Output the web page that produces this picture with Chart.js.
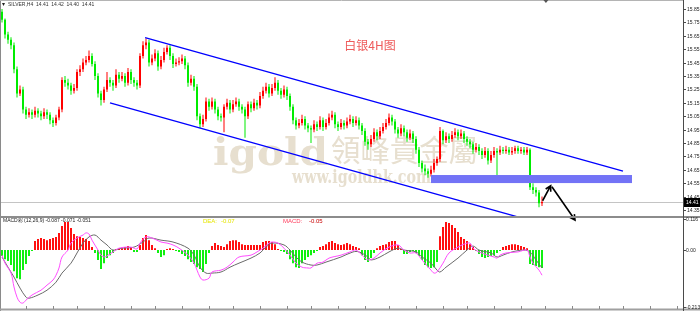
<!DOCTYPE html>
<html>
<head>
<meta charset="utf-8">
<script src="https://cdn.jsdelivr.net/npm/chart.js@4.4.1/dist/chart.umd.min.js"></script>
<style>
  html, body { margin: 0; padding: 0; background: #fff; }
  #wrap { position: relative; width: 700px; height: 311px; overflow: hidden; }
  #price { position: absolute; left: 0; top: 0; }
  #macd { position: absolute; left: 0; top: 214px; }
</style>
</head>
<body>
<div id="wrap">
  <canvas id="price" width="700" height="311"></canvas>
  <canvas id="macd" width="700" height="97"></canvas>
</div>
<script>
'use strict';

// ─── SILVER H4 candles ────────────────────────────────────────────────────────

const openP = [
  15.83,15.77,15.66,15.62,15.58,15.40,15.22,15.25,15.10,15.06,
  15.08,15.06,15.09,15.07,15.05,15.08,15.06,15.02,15.00,15.04,
  15.10,15.32,15.30,15.28,15.24,15.26,15.38,15.40,15.45,15.47,
  15.50,15.44,15.35,15.22,15.17,15.25,15.32,15.30,15.28,15.36,
  15.33,15.35,15.30,15.38,15.32,15.30,15.28,15.50,15.58,15.60,
  15.45,15.48,15.52,15.42,15.47,15.53,15.56,15.50,15.44,15.45,
  15.46,15.48,15.43,15.30,15.33,15.27,15.05,14.99,15.03,15.16,
  15.12,15.16,15.10,15.05,15.04,15.12,15.15,15.10,15.14,15.16,
  15.12,15.10,15.05,15.14,15.11,15.15,15.13,15.20,15.24,15.27,
  15.22,15.26,15.30,15.24,15.21,15.25,15.20,15.12,15.02,14.98,
  15.00,15.03,14.98,14.96,14.95,14.99,14.97,15.02,14.97,15.00,
  15.04,15.06,14.99,14.97,15.00,14.98,15.01,15.03,15.00,15.02,
  14.98,14.94,14.86,14.84,14.88,14.93,14.90,14.94,14.97,15.00,
  15.04,15.01,14.95,14.92,14.96,14.93,14.89,14.92,14.88,14.80,
  14.70,14.66,14.64,14.62,14.65,14.70,14.73,14.94,14.87,14.90,
  14.88,14.91,14.93,14.90,14.92,14.88,14.86,14.84,14.80,14.82,
  14.79,14.76,14.79,14.72,14.76,14.79,14.78,14.80,14.79,14.80,
  14.78,14.79,14.81,14.79,14.80,14.78,14.80,14.52,14.50,14.48,
  14.40
];
const highP = [
  15.85,15.78,15.68,15.64,15.60,15.42,15.28,15.27,15.12,15.11,
  15.10,15.12,15.11,15.09,15.11,15.10,15.08,15.04,15.06,15.12,
  15.34,15.35,15.33,15.30,15.29,15.40,15.43,15.48,15.50,15.54,
  15.52,15.46,15.37,15.24,15.27,15.38,15.34,15.32,15.40,15.38,
  15.38,15.37,15.41,15.40,15.34,15.32,15.52,15.61,15.63,15.62,
  15.51,15.55,15.54,15.50,15.56,15.58,15.58,15.52,15.48,15.49,
  15.51,15.50,15.45,15.36,15.35,15.29,15.07,15.06,15.19,15.18,
  15.19,15.18,15.12,15.07,15.14,15.18,15.17,15.17,15.19,15.18,
  15.14,15.12,15.16,15.16,15.18,15.17,15.23,15.27,15.30,15.29,
  15.29,15.34,15.32,15.26,15.28,15.27,15.22,15.14,15.04,15.03,
  15.06,15.05,15.00,14.98,15.02,15.01,15.05,15.04,15.03,15.07,
  15.09,15.08,15.01,15.03,15.02,15.04,15.06,15.05,15.05,15.04,
  15.00,14.96,14.88,14.91,14.96,14.95,14.97,15.00,15.03,15.07,
  15.06,15.03,14.97,14.99,14.98,14.95,14.95,14.94,14.90,14.82,
  14.72,14.69,14.66,14.68,14.73,14.75,14.97,14.95,14.93,14.92,
  14.94,14.96,14.95,14.95,14.94,14.90,14.88,14.86,14.85,14.84,
  14.81,14.82,14.81,14.79,14.82,14.81,14.83,14.82,14.83,14.82,
  14.82,14.83,14.83,14.82,14.82,14.82,14.81,14.55,14.52,14.50,
  14.45
];
const lowP = [
  15.75,15.63,15.59,15.55,15.37,15.19,15.20,15.07,15.03,15.04,
  15.03,15.04,15.04,15.02,15.03,15.03,14.99,14.97,14.98,15.02,
  15.08,15.27,15.25,15.21,15.22,15.24,15.35,15.38,15.43,15.45,
  15.42,15.32,15.19,15.13,15.15,15.23,15.27,15.24,15.26,15.30,
  15.31,15.27,15.28,15.29,15.27,15.25,15.26,15.48,15.55,15.42,
  15.43,15.46,15.39,15.40,15.45,15.51,15.47,15.41,15.42,15.43,
  15.44,15.40,15.27,15.28,15.24,15.02,14.96,14.97,15.01,15.09,
  15.10,15.07,15.02,15.01,14.93,15.10,15.07,15.08,15.12,15.09,
  15.07,14.89,15.03,15.08,15.09,15.10,15.11,15.18,15.22,15.19,
  15.20,15.24,15.21,15.18,15.19,15.17,15.09,14.99,14.95,14.96,
  14.98,14.95,14.93,14.85,14.93,14.94,14.95,14.94,14.95,14.98,
  15.02,14.96,14.94,14.95,14.95,14.96,14.99,14.97,14.98,14.95,
  14.91,14.83,14.80,14.82,14.86,14.87,14.88,14.92,14.95,14.98,
  14.98,14.92,14.89,14.90,14.90,14.86,14.87,14.85,14.77,14.67,
  14.63,14.61,14.59,14.60,14.63,14.68,14.71,14.84,14.85,14.85,
  14.86,14.89,14.87,14.88,14.85,14.83,14.81,14.77,14.78,14.76,
  14.73,14.74,14.69,14.70,14.74,14.61,14.76,14.77,14.77,14.76,
  14.76,14.77,14.77,14.77,14.76,14.76,14.50,14.47,14.45,14.37,
  14.38
];
const closeP = [
  15.77,15.66,15.62,15.58,15.40,15.22,15.25,15.10,15.06,15.08,
  15.06,15.09,15.07,15.05,15.08,15.06,15.02,15.00,15.04,15.10,
  15.32,15.30,15.28,15.24,15.26,15.38,15.40,15.45,15.47,15.50,
  15.44,15.35,15.22,15.17,15.25,15.32,15.30,15.28,15.36,15.33,
  15.35,15.30,15.38,15.32,15.30,15.28,15.50,15.58,15.60,15.45,
  15.48,15.52,15.42,15.47,15.53,15.56,15.50,15.44,15.45,15.46,
  15.48,15.43,15.30,15.33,15.27,15.05,14.99,15.03,15.16,15.12,
  15.16,15.10,15.05,15.04,15.12,15.15,15.10,15.14,15.16,15.12,
  15.10,15.05,15.14,15.11,15.15,15.13,15.20,15.24,15.27,15.22,
  15.26,15.30,15.24,15.21,15.25,15.20,15.12,15.02,14.98,15.00,
  15.03,14.98,14.96,14.95,14.99,14.97,15.02,14.97,15.00,15.04,
  15.06,14.99,14.97,15.00,14.98,15.01,15.03,15.00,15.02,14.98,
  14.94,14.86,14.84,14.88,14.93,14.90,14.94,14.97,15.00,15.04,
  15.01,14.95,14.92,14.96,14.93,14.89,14.92,14.88,14.80,14.70,
  14.66,14.64,14.62,14.65,14.70,14.73,14.94,14.87,14.90,14.88,
  14.91,14.93,14.90,14.92,14.88,14.86,14.84,14.80,14.82,14.79,
  14.76,14.79,14.72,14.76,14.79,14.78,14.80,14.79,14.80,14.78,
  14.79,14.81,14.79,14.80,14.78,14.80,14.52,14.50,14.48,14.40,
  14.41
];

// ─── MACD (12,26,9) ──────────────────────────────────────────────────────────

const macdHist = [
  -0.022,-0.034,-0.041,-0.056,-0.079,-0.105,-0.109,-0.075,-0.052,-0.022,
  -0.004, 0.034, 0.041, 0.045, 0.041, 0.037, 0.041, 0.045, 0.049, 0.064,
   0.090, 0.105, 0.105, 0.082, 0.060, 0.052, 0.049, 0.045, 0.041, 0.034,
   0.011,-0.011,-0.037,-0.071,-0.049,-0.030,-0.019,-0.011, 0.004, 0.007,
   0.007, 0.011, 0.015, 0.011,-0.007,-0.007, 0.019, 0.045, 0.056, 0.037,
   0.019, 0.007,-0.011,-0.026,-0.019, 0.004, 0.007, 0.004,-0.004,-0.007,
  -0.015,-0.022,-0.034,-0.045,-0.052,-0.064,-0.071,-0.082,-0.052,-0.011,
   0.015, 0.026, 0.019, 0.015, 0.011, 0.022, 0.034, 0.037, 0.037, 0.030,
   0.022, 0.019, 0.019, 0.019, 0.019, 0.019, 0.019, 0.030, 0.034, 0.034,
   0.030, 0.022, 0.004,-0.004,-0.007,-0.015,-0.034,-0.049,-0.064,-0.067,
  -0.049,-0.037,-0.026,-0.019,-0.011,-0.004, 0.011, 0.015, 0.022, 0.030,
   0.034, 0.026, 0.022, 0.019, 0.022, 0.026, 0.022, 0.015, 0.011, 0.007,
  -0.019,-0.037,-0.045,-0.030,-0.011, 0.007, 0.015, 0.019, 0.022, 0.030,
   0.034, 0.034, 0.019, 0.004,-0.015,-0.015,-0.007,-0.004,-0.011,-0.022,
  -0.037,-0.056,-0.064,-0.067,-0.064,-0.045, 0.052, 0.086, 0.105, 0.101,
   0.094, 0.082, 0.067, 0.049, 0.041, 0.034, 0.022, 0.011,-0.004,-0.015,
  -0.026,-0.030,-0.026,-0.022,-0.019,-0.011,-0.004, 0.011, 0.015, 0.019,
   0.022, 0.022, 0.019, 0.015, 0.011, 0.007,-0.052,-0.056,-0.060,-0.064,
  -0.067
];

// fast line (magenta), sampled at candle indexes
const difIdx = [0,1,3,4,5,6,7,8,10,13,15,17,18,19,20,22,23,25,27,28,29,30,32,33,34,35,37,39,43,45,
  46,48,50,53,55,57,59,62,64,66,67,69,70,73,75,77,79,83,85,87,89,90,92,94,96,98,100,102,103,105,
  107,109,113,116,118,120,122,124,126,129,132,134,136,138,140,143,144,145,147,149,152,154,156,157,159,162,164,165,166,168,
  172,175,176,177,179,180];
const difVal = [-0.019,-0.049,-0.086,-0.138,-0.176,-0.195,-0.198,-0.187,-0.168,-0.150,
  -0.131,-0.112,-0.094,-0.067,-0.026,0,0.026,0.045,0.056,0.064,
  0.060,0.037,0,-0.019,-0.026,-0.022,-0.007,0.007,0.011,0.004,
  0.026,0.049,0.045,0.030,0.026,0.019,0.007,-0.019,-0.049,-0.101,
  -0.112,-0.105,-0.082,-0.075,-0.064,-0.045,-0.026,-0.019,-0.007,0.007,
  0.026,0.030,0.026,0.007,-0.019,-0.049,-0.064,-0.067,-0.067,-0.049,
  -0.045,-0.030,-0.019,-0.007,0,-0.019,-0.037,-0.030,-0.011,0.011,
  0.019,0,-0.011,-0.011,-0.037,-0.075,-0.086,-0.082,-0.049,-0.011,
  0.011,0.022,0.026,0.007,-0.007,-0.019,-0.026,-0.030,-0.019,-0.011,
  -0.007,0,-0.026,-0.049,-0.075,-0.094];

// slow line (grey)
const deaIdx = [0,2,4,6,8,9,12,15,18,20,23,25,27,29,31,33,35,37,40,44,
  47,49,53,57,62,64,66,68,70,73,76,79,83,86,88,90,94,96,98,100,
  103,105,108,113,117,119,122,123,126,129,132,134,138,140,143,145,146,148,152,155,
  157,159,163,165,167,170,174,176,178,180];
const deaVal = [-0.026,-0.064,-0.101,-0.142,-0.176,-0.180,-0.168,-0.150,-0.120,-0.086,
  -0.049,-0.011,0.026,0.049,0.056,0.037,0.019,0,0.007,0.011,
  0.030,0.045,0.037,0.030,0.007,-0.019,-0.064,-0.086,-0.086,-0.082,
  -0.064,-0.049,-0.030,-0.011,0.011,0.026,0.019,0,-0.026,-0.045,
  -0.056,-0.056,-0.045,-0.026,-0.007,-0.007,-0.026,-0.037,-0.026,-0.007,
  0.007,0,-0.007,-0.026,-0.049,-0.075,-0.082,-0.064,-0.030,0,
  0.015,0,-0.011,-0.026,-0.019,-0.007,0,-0.007,-0.037,-0.067];

// ─── Axes ────────────────────────────────────────────────────────────────────

const priceTicks = [15.85,15.75,15.65,15.55,15.45,15.35,15.25,15.15,15.05,14.95,14.85,14.75,14.65,14.55,14.45,14.35];
const macdTicks = [0.116, 0, -0.213];
const macdTickLabels = ['0.116', '0.00', '-0.213'];
const timeTicks = [8,17,25,34,43,51,60,69,77,86,95,103,112,121,129,138,147,155,164,173,181,190,199,207,216,225];
const lastPrice = 14.41;

// ─── Hand drawn objects, in (candle index, price) ───────────────────────────

const upperChannel = [[47.7, 15.636], [207, 14.641]];
const lowerChannel = [[36, 15.149], [172, 14.298]];
const supportBand = { from: 143, to: 210, top: 14.611, bottom: 14.551 };
const arrowUp = [[180.2, 14.419], [182.9, 14.531]];
const arrowDown = [[183.3, 14.524], [191, 14.275]];

const UP = '#ff0000';
const DOWN = '#00ec00';
const WATERMARK = '#e7dfcf';
const SMALL = '5px "Liberation Sans", Arial, sans-serif';

const xAxis = { type: 'linear', min: -1 / 3, max: 227, offset: false, display: false };

function stretchText(ctx, text, font, left, right, baseline, color) {
  ctx.save();
  ctx.font = font;
  ctx.fillStyle = color;
  ctx.textBaseline = 'alphabetic';
  const w = ctx.measureText(text).width;
  ctx.translate(left, baseline);
  ctx.scale((right - left) / w, 1);
  ctx.fillText(text, 0, 0);
  ctx.restore();
}

function hline(ctx, x0, x1, y, color, width) {
  ctx.strokeStyle = color;
  ctx.lineWidth = width;
  ctx.beginPath();
  ctx.moveTo(x0, y);
  ctx.lineTo(x1, y);
  ctx.stroke();
}

function vline(ctx, x, y0, y1, color, width) {
  ctx.strokeStyle = color;
  ctx.lineWidth = width;
  ctx.beginPath();
  ctx.moveTo(x, y0);
  ctx.lineTo(x, y1);
  ctx.stroke();
}

function arrow(ctx, from, to) {
  const ang = Math.atan2(to[1] - from[1], to[0] - from[0]);
  const head = 6;
  ctx.strokeStyle = '#000';
  ctx.lineWidth = 1.6;
  ctx.beginPath();
  ctx.moveTo(from[0], from[1]);
  ctx.lineTo(to[0], to[1]);
  ctx.moveTo(to[0] - head * Math.cos(ang - 0.5), to[1] - head * Math.sin(ang - 0.5));
  ctx.lineTo(to[0], to[1]);
  ctx.lineTo(to[0] - head * Math.cos(ang + 0.5), to[1] - head * Math.sin(ang + 0.5));
  ctx.stroke();
}

// ─── Price panel ─────────────────────────────────────────────────────────────

const priceDecor = {
  id: 'priceDecor',
  beforeDraw(chart) {
    const { ctx, width, height } = chart;
    ctx.save();
    ctx.fillStyle = '#fff';
    ctx.fillRect(0, 0, width, height);
    ctx.restore();
  },
  beforeDatasetsDraw(chart) {
    const { ctx, chartArea: a, scales: { y } } = chart;
    ctx.save();
    stretchText(ctx, 'igold', 'bold 38px "DejaVu Serif", serif', 213, 328, 165, WATERMARK);
    stretchText(ctx, '領峰貴金屬', '30px "Noto Sans CJK TC", sans-serif', 331, 478, 161, WATERMARK);
    stretchText(ctx, 'www.igoldhk.com', 'bold 18px "DejaVu Serif", serif', 292, 431, 183, WATERMARK);
    const py = Math.round(y.getPixelForValue(lastPrice)) + 0.5;
    hline(ctx, a.left, a.right, py, '#c4c4c4', 1);
    ctx.restore();
  },
  afterDatasetsDraw(chart) {
    const { ctx, chartArea: a, scales: { x, y } } = chart;
    const pt = (p) => [x.getPixelForValue(p[0]), y.getPixelForValue(p[1])];
    ctx.save();
    ctx.beginPath();
    ctx.rect(a.left, a.top, a.right - a.left, a.bottom - a.top);
    ctx.clip();

    const bx0 = x.getPixelForValue(supportBand.from);
    const bx1 = x.getPixelForValue(supportBand.to);
    const by0 = y.getPixelForValue(supportBand.top);
    const by1 = y.getPixelForValue(supportBand.bottom);
    ctx.fillStyle = '#7373f6';
    ctx.fillRect(bx0, by0, bx1 - bx0, by1 - by0);

    ctx.strokeStyle = '#0000ff';
    ctx.lineWidth = 1.3;
    [upperChannel, lowerChannel].forEach(seg => {
      const p0 = pt(seg[0]);
      const p1 = pt(seg[1]);
      ctx.beginPath();
      ctx.moveTo(p0[0], p0[1]);
      ctx.lineTo(p1[0], p1[1]);
      ctx.stroke();
    });
    ctx.restore();

    ctx.save();
    arrow(ctx, pt(arrowUp[0]), pt(arrowUp[1]));
    arrow(ctx, pt(arrowDown[0]), pt(arrowDown[1]));
    ctx.restore();
  },
  afterDraw(chart) {
    const { ctx, chartArea: a, scales: { x, y }, width, height } = chart;
    ctx.save();

    // frame and panel separators
    vline(ctx, 0.5, 0, height, '#8a8a8a', 1);
    hline(ctx, 0, a.right, 0.5, '#b4b4b4', 1);
    hline(ctx, 0, width, a.bottom + 1, '#8c8c8c', 2);
    hline(ctx, 0, width, height - 1.5, '#a0a0a0', 2);
    vline(ctx, a.right + 0.5, 0, height, '#4a4a4a', 1);

    // time ticks along the bottom
    timeTicks.forEach(t => {
      const tx = Math.round(x.getPixelForValue(t)) + 0.5;
      vline(ctx, tx, height - 5, height - 2, '#8a8a8a', 1);
    });

    // price scale
    ctx.font = SMALL;
    ctx.fillStyle = '#222';
    ctx.textBaseline = 'middle';
    ctx.textAlign = 'left';
    priceTicks.forEach(v => {
      const ty = Math.round(y.getPixelForValue(v)) + 0.5;
      hline(ctx, a.right, a.right + 3, ty, '#4a4a4a', 1);
      ctx.fillText(v.toFixed(2), a.right + 4, ty);
    });

    // last price tag
    const py = Math.round(y.getPixelForValue(lastPrice));
    ctx.fillStyle = '#000';
    ctx.fillRect(a.right + 1, py - 4, width - a.right - 1, 9);
    ctx.fillStyle = '#fff';
    ctx.fillText(lastPrice.toFixed(2), a.right + 3, py + 0.5);

    // symbol line
    ctx.fillStyle = '#222';
    ctx.beginPath();
    ctx.moveTo(2, 3); ctx.lineTo(5, 3); ctx.lineTo(3.5, 6); ctx.closePath();
    ctx.fill();
    ctx.fillStyle = '#333';
    ctx.fillText('SILVER,H4  14.41  14.42  14.40  14.41', 8, 4.5);

    // chart shift marker
    const mx = x.getPixelForValue(181.3);
    ctx.fillStyle = '#555';
    ctx.beginPath();
    ctx.moveTo(mx - 2.5, 0); ctx.lineTo(mx + 2.5, 0); ctx.lineTo(mx, 3); ctx.closePath();
    ctx.fill();

    // caption
    ctx.font = '12px "Noto Sans CJK SC", sans-serif';
    ctx.fillStyle = '#ee5a5a';
    ctx.textAlign = 'center';
    ctx.textBaseline = 'middle';
    ctx.fillText('白银4H图', 370, 45);
    ctx.restore();
  }
};

const candleColor = closeP.map((c, i) => (c > openP[i] ? UP : DOWN));

new Chart(document.getElementById('price'), {
  type: 'bar',
  data: {
    datasets: [
      {
        label: 'wick',
        data: closeP.map((_, i) => ({ x: i, y: [lowP[i], highP[i]] })),
        backgroundColor: candleColor,
        barThickness: 1,
        grouped: false,
        inflateAmount: 0,
        order: 2,
      },
      {
        label: 'body',
        data: closeP.map((c, i) => ({ x: i, y: [openP[i], c] })),
        backgroundColor: candleColor,
        barThickness: 2,
        minBarLength: 1,
        grouped: false,
        inflateAmount: 0,
        order: 1,
      },
    ],
  },
  options: {
    responsive: false,
    animation: false,
    events: [],
    layout: { padding: { left: 1, right: 17, top: 3, bottom: 95 } },
    plugins: { legend: { display: false }, tooltip: { enabled: false } },
    scales: {
      x: xAxis,
      y: { type: 'linear', min: 14.3052, max: 15.8948, display: false },
    },
  },
  plugins: [priceDecor],
});

// ─── MACD panel ──────────────────────────────────────────────────────────────

const macdDecor = {
  id: 'macdDecor',
  afterDraw(chart) {
    const { ctx, chartArea: a, scales: { y } } = chart;
    ctx.save();
    ctx.textBaseline = 'middle';
    ctx.textAlign = 'left';
    ctx.font = SMALL;
    ctx.fillStyle = '#222';
    ctx.fillText('MACD彩 (12,26,9) -0.087 -0.071 -0.051', 3, 7);

    ctx.font = '6px "Liberation Sans", Arial, sans-serif';
    ctx.fillStyle = '#e6e600';
    ctx.fillText('DEA:', 203, 7);
    ctx.fillText('-0.07', 221, 7);
    ctx.fillStyle = '#ff3a5a';
    ctx.fillText('MACD:', 283, 7);
    ctx.fillStyle = '#c80000';
    ctx.fillText('-0.05', 309, 7);

    ctx.font = SMALL;
    ctx.fillStyle = '#222';
    macdTicks.forEach((v, k) => {
      const ty = Math.round(y.getPixelForValue(v)) + 0.5;
      hline(ctx, a.right, a.right + 3, ty, '#4a4a4a', 1);
      ctx.fillText(macdTickLabels[k], a.right + 3, ty);
    });
    ctx.restore();
  }
};

new Chart(document.getElementById('macd'), {
  type: 'bar',
  data: {
    datasets: [
      {
        type: 'line',
        label: 'DEA',
        data: deaIdx.map((t, k) => ({ x: t, y: deaVal[k] })),
        borderColor: '#6a6a6a',
        borderWidth: 1,
        pointRadius: 0,
        tension: 0.35,
        order: 1,
      },
      {
        type: 'line',
        label: 'DIF',
        data: difIdx.map((t, k) => ({ x: t, y: difVal[k] })),
        borderColor: '#ff4cff',
        borderWidth: 1,
        pointRadius: 0,
        tension: 0.35,
        order: 0,
      },
      {
        label: 'MACD',
        data: macdHist.map((v, i) => ({ x: i, y: v })),
        backgroundColor: macdHist.map(v => (v >= 0 ? '#ff1010' : '#10f010')),
        barThickness: 2,
        inflateAmount: 0,
        grouped: false,
        order: 2,
      },
    ],
  },
  options: {
    responsive: false,
    animation: false,
    events: [],
    layout: { padding: { left: 1, right: 17, top: 5, bottom: 3 } },
    plugins: { legend: { display: false }, tooltip: { enabled: false } },
    scales: {
      x: xAxis,
      y: { type: 'linear', min: -0.2165, max: 0.116, display: false },
    },
  },
  plugins: [macdDecor],
});
</script>
</body>
</html>
